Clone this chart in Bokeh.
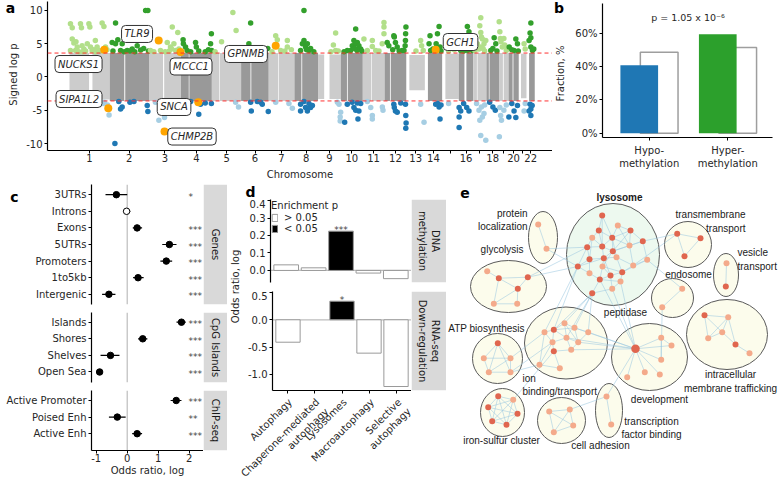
import numpy as np
from math import pi
from bokeh.plotting import figure
from bokeh.models import Range1d, FixedTicker, Label, Span, Legend, LegendItem, PrintfTickFormatter
from bokeh.layouts import row, column
from bokeh.embed import file_html
from bokeh.resources import INLINE
from bokeh.core.properties import value

FONT = "DejaVu Sans"
EFONT = "Liberation Sans"
TXT = "#262626"

# ======================= DATA =======================
# ---- a: Manhattan plot ----
chrom_len = [249, 243, 198, 191, 181, 171, 159, 146, 141, 136, 135, 134,
             115, 107, 103, 90, 81, 78, 59, 63, 48, 51]
gap_start = [121, 90, 87, 48, 46, 58, 58, 43, 38, 38, 51, 33, 0, 0, 0, 35, 22, 15, 24, 25, 0, 0]
gap_end = [142, 96, 94, 52, 50, 63, 62, 48, 71, 43, 55, 38, 19, 19, 20, 47, 26, 19, 29, 30, 14, 16]
band_hi = [3.6, 3.6, 3.6, 3.6, 3.6, 3.6, 3.6, 3.6, 3.4, 3.6, 3.6, 3.6,
           3.3, 3.6, 3.5, 3.6, 3.6, 3.6, 3.6, 3.6, 3.5, 3.6]
band_lo = [-3.4, -3.6, -3.6, -3.6, -3.6, -3.6, -3.6, -3.6, -3.3, -3.6, -3.6, -3.6,
           -2.0, -3.6, -3.3, -3.6, -3.6, -3.6, -3.6, -3.6, -3.2, -3.6]
chrom_tick_labels = ["1", "2", "3", "4", "5", "6", "7", "8", "9", "10", "11", "12", "13", "14",
                     "", "16", "", "18", "", "20", "", "22"]
threshold = 3.6

up_hits = [  # (chromosome, position Mb, signed log p)
    (1, 6, 8.0), (1, 17, 7.4), (1, 68, 8.0), (1, 74, 7.4), (1, 120, 8.0), (1, 126, 7.5), (1, 202, 8.1),
    (1, 213, 7.6), (1, 17, 5.7), (1, 27, 5.1), (1, 48, 4.5), (1, 78, 4.7), (1, 89, 4.2), (1, 110, 5.0),
    (1, 130, 4.5), (1, 151, 4.1), (1, 171, 4.5), (1, 182, 4.0), (1, 223, 4.5), (1, 6, 4.0), (1, 37, 4.0),
    (1, 58, 3.8), (1, 100, 3.9), (1, 140, 4.0), (1, 161, 3.8), (1, 192, 3.9), (1, 232, 4.1), (1, 40, 5.3),
    (1, 160, 5.5), (1, 85, 3.8),
    (2, 36, 8.1), (2, 15, 5.2), (2, 36, 5.0), (2, 50, 5.6), (2, 77, 5.0), (2, 67, 4.0), (2, 108, 4.0),
    (2, 139, 4.2), (2, 170, 4.7), (2, 191, 4.05), (2, 222, 10.0), (2, 236, 10.0), (2, 20, 3.9),
    (2, 90, 3.8), (2, 125, 3.9), (2, 155, 3.8), (2, 210, 4.3), (2, 240, 3.9),
    (3, 9, 4.0), (3, 144, 7.5), (3, 178, 6.7), (3, 113, 5.2), (3, 133, 4.5), (3, 154, 5.0), (3, 71, 4.0),
    (3, 100, 3.8), (3, 125, 3.9), (3, 165, 4.0), (3, 185, 4.2), (3, 30, 3.8), (3, 140, 4.2),
    (4, 13, 5.6), (4, 15, 5.0), (4, 28, 4.5), (4, 38, 4.0), (4, 90, 5.2), (4, 95, 4.5), (4, 110, 3.9),
    (4, 150, 3.8), (4, 183, 5.0), (4, 188, 6.5), (4, 190, 4.0), (4, 170, 4.1), (4, 60, 3.8),
    (5, 60, 5.3), (5, 130, 9.7), (5, 150, 7.0), (5, 100, 4.2), (5, 20, 3.8), (5, 170, 4.0),
    (6, 59, 8.1), (6, 48, 5.0), (6, 70, 4.3), (6, 100, 4.0), (6, 165, 4.3), (6, 30, 3.8), (6, 140, 3.9),
    (7, 43, 6.2), (7, 53, 5.6), (7, 115, 5.5), (7, 115, 4.5), (7, 74, 4.0), (7, 100, 3.9), (7, 140, 4.1),
    (7, 20, 3.8),
    (8, 59, 10.0), (8, 49, 5.0), (8, 59, 5.5), (8, 69, 4.5), (8, 80, 5.0), (8, 38, 4.0), (8, 90, 4.0),
    (8, 100, 4.3), (8, 75, 4.1), (8, 120, 3.8),
    (9, 109, 6.6), (9, 95, 4.8), (9, 109, 4.0), (9, 125, 3.9), (9, 80, 3.8),
    (10, 92, 7.2), (10, 81, 5.5), (10, 102, 5.2), (10, 71, 4.7), (10, 92, 5.0), (10, 112, 4.7),
    (10, 123, 4.2), (10, 61, 4.0), (10, 40, 4.0), (10, 100, 4.0), (10, 85, 4.3), (10, 130, 3.9),
    (10, 20, 3.8),
    (11, 7, 5.7), (11, 59, 5.5), (11, 59, 4.6), (11, 28, 4.0), (11, 131, 8.2), (11, 131, 7.5),
    (11, 131, 6.5), (11, 120, 5.0), (11, 100, 3.9), (11, 80, 4.0),
    (12, 16, 5.2), (12, 26, 4.7), (12, 57, 6.2), (12, 60, 6.0), (12, 67, 5.2), (12, 78, 4.5),
    (12, 109, 4.0), (12, 132, 7.5), (12, 130, 6.5), (12, 129, 5.5), (12, 127, 4.7), (12, 50, 4.1),
    (12, 120, 4.0), (12, 90, 3.9),
    (13, 89, 5.5), (13, 95, 4.7), (13, 60, 3.9), (13, 105, 4.0),
    (14, 32, 6.2), (14, 26, 5.0), (14, 88, 7.6), (14, 78, 6.5), (14, 94, 4.5), (14, 36, 4.0),
    (14, 50, 4.2), (14, 100, 3.9), (14, 70, 5.0),
    (15, 40, 3.9), (15, 75, 4.1),
    (16, 53, 7.6), (16, 63, 6.8), (16, 53, 5.0), (16, 56, 4.0), (16, 84, 4.0), (16, 12, 4.0),
    (16, 70, 4.5), (16, 30, 3.9),
    (17, 46, 8.9), (17, 40, 7.7), (17, 46, 6.7), (17, 56, 5.7), (17, 66, 5.0), (17, 46, 4.5),
    (17, 77, 5.5), (17, 25, 5.0), (17, 10, 4.0), (17, 35, 4.2), (17, 60, 4.3), (17, 70, 3.9),
    (17, 50, 6.0),
    (18, 48, 5.9), (18, 58, 5.0), (18, 27, 4.0), (18, 40, 4.3), (18, 65, 3.9),
    (19, 1, 8.3), (19, 5, 6.8), (19, 8, 5.8), (19, 12, 5.3), (19, 20, 4.5), (19, 35, 4.8),
    (19, 45, 4.0), (19, 30, 5.8), (19, 50, 4.3),
    (20, 45, 5.7), (20, 55, 5.0), (20, 34, 4.0), (20, 4, 4.5), (20, 20, 4.1), (20, 60, 3.9),
    (21, 33, 5.0), (21, 40, 4.2),
    (22, 27, 8.1), (22, 22, 6.6), (22, 27, 5.9), (22, 16, 5.5), (22, 27, 4.5), (22, 37, 4.0),
    (22, 45, 4.2),
]
down_hits = [
    (1, 208, -4.0), (1, 245, -5.7), (1, 235, -4.2), (1, 215, -3.8),
    (2, 56, -3.7), (2, 77, -4.5), (2, 67, -4.8), (2, 125, -3.8), (2, 32, -10.0), (2, 232, -4.3),
    (2, 236, -5.2), (2, 150, -3.7),
    (3, 61, -6.5), (3, 96, -6.1), (3, 123, -3.7), (3, 40, -3.8),
    (4, 110, -5.6), (4, 121, -4.1), (4, 150, -3.9), (4, 188, -4.0), (4, 60, -3.7),
    (5, 147, -3.8), (5, 165, -4.5),
    (6, 59, -3.8), (6, 63, -5.1), (6, 121, -3.8), (6, 131, -4.1), (6, 168, -5.2), (6, 100, -3.7),
    (7, 125, -4.0), (7, 146, -4.7), (7, 43, -3.8),
    (8, 38, -4.1), (8, 38, -5.1), (8, 69, -4.6), (8, 80, -5.1), (8, 100, -4.6), (8, 111, -4.3),
    (8, 59, -3.7), (8, 90, -4.0),
    (9, 130, -4.1), (9, 140, -5.3), (9, 137, -6.0), (9, 137, -6.6), (9, 120, -3.8),
    (10, 24, -6.8), (10, 40, -4.1), (10, 81, -4.6), (10, 92, -5.0), (10, 102, -3.9), (10, 112, -5.1),
    (10, 106, -6.3), (10, 123, -4.0), (10, 70, -3.8),
    (11, 49, -4.6), (11, 59, -5.8), (11, 59, -6.3), (11, 28, -3.7), (11, 121, -4.5), (11, 125, -5.0),
    (12, 57, -4.1), (12, 60, -4.6), (12, 67, -5.1), (12, 78, -5.3), (12, 129, -4.1), (12, 131, -5.8),
    (12, 133, -6.9), (12, 131, -7.7), (12, 100, -3.9),
    (13, 89, -4.1), (13, 110, -6.8),
    (14, 67, -4.1), (14, 88, -4.5), (14, 94, -6.3), (14, 80, -4.0), (14, 100, -4.2),
    (15, 40, -4.0),
    (16, 2, -4.6), (16, 2, -6.0), (16, 2, -7.6), (16, 49, -4.6), (16, 63, -5.1), (16, 12, -5.1),
    (16, 30, -4.0),
    (17, 46, -8.8), (17, 77, -9.5), (17, 35, -5.0), (17, 56, -6.0), (17, 66, -5.5), (17, 20, -4.0),
    (17, 50, -4.5), (17, 70, -4.2), (17, 40, -6.5),
    (18, 40, -4.5), (18, 55, -5.0), (18, 20, -3.8),
    (19, 2, -9.0), (19, 10, -5.8), (19, 5, -4.6), (19, 15, -6.5), (19, 30, -5.0), (19, 45, -4.2),
    (20, 34, -5.1), (20, 45, -6.1), (20, 2, -6.0), (20, 20, -4.0), (20, 55, -4.3),
    (21, 33, -5.1), (21, 40, -4.0),
    (22, 22, -4.1), (22, 27, -4.8), (22, 27, -5.8), (22, 16, -5.1), (22, 35, -4.3),
]
hl_gene = ["NUCKS1", "TLR9", "MCCC1", "GPNMB", "GCH1", "SIPA1L2", "SNCA", "CHMP2B"]
hl_chr = [1, 3, 3, 7, 14, 1, 4, 3]
hl_pos = [215, 60, 195, 43, 67, 240, 107, 96]
hl_val = [4.1, 5.5, 3.75, 4.7, 4.1, -4.7, -3.8, -8.2]

# ---- b ----
b_cats = ["Hypo-\nmethylation", "Hyper-\nmethylation"]
b_obs = [40.7, 59.3]
b_bg = [48.6, 51.4]
b_colors = ["#1f77b4", "#2ca02c"]
b_ptext = "p = 1.05 x 10\u207b\u2076"

# ---- c ----
c_genes = ["3UTRs", "Introns", "Exons", "5UTRs", "Promoters", "1to5kb", "Intergenic"]
c_genes_or = [-0.35, -0.02, 0.32, 1.36, 1.26, 0.35, -0.59]
c_genes_lo = [-0.70, -0.13, 0.18, 1.13, 1.07, 0.19, -0.81]
c_genes_hi = [0.0, 0.10, 0.48, 1.59, 1.45, 0.53, -0.38]
c_genes_sig = ["*", "", "***", "***", "***", "***", "***"]
c_cpg = ["Islands", "Shores", "Shelves", "Open Sea"]
c_cpg_or = [1.75, 0.50, -0.54, -0.89]
c_cpg_lo = [1.59, 0.35, -0.86, -0.94]
c_cpg_hi = [1.89, 0.65, -0.25, -0.84]
c_cpg_sig = ["***", "***", "***", "***"]
c_chip = ["Active Promoter", "Poised Enh", "Active Enh"]
c_chip_or = [1.58, -0.32, 0.32]
c_chip_lo = [1.40, -0.59, 0.16]
c_chip_hi = [1.75, -0.05, 0.48]
c_chip_sig = ["***", "**", "***"]

# ---- d ----
d_cats = ["Autophagy", "Chaperone-mediated\nautophagy", "Lysosomes", "Macroautophagy", "Selective\nautophagy"]
d_dna = [0.032, 0.015, 0.225, -0.015, -0.047]
d_dna_sig = ["", "", "***", "", ""]
d_rna = [-0.41, float("nan"), 0.34, -0.61, -1.22]
d_rna_sig = ["", "", "*", "", ""]

# ---- e: network ----
cl_x = [612.5, 542.5, 508, 497, 502, 565.5, 649, 608.5, 561, 687.5, 725.5, 672, 726.5]
cl_y = [254, 237, 286, 358, 412, 342.5, 356.5, 410, 420, 244, 274.5, 297.5, 334]
cl_w = [93, 29, 76, 50, 44, 83, 76, 27, 48, 47, 25, 42, 81]
cl_h = [102, 52, 52, 50, 48, 72, 67, 54, 46, 46, 43, 39, 70]
cl_fill = ["#edf9ef"] + ["#fcfcec"] * 12
node_x = [601.7, 617.3, 598.3, 611.7, 630, 591.7, 642.3, 586.7, 601.7, 629, 612.3, 616, 589, 603.3, 646.7,
          577.3, 602, 632.7, 589, 610, 621.7, 599.3, 620, 591.7, 611.7,
          537.7, 546,
          486.7, 498.3, 527.3, 517.3, 493.3, 516.7,
          497.3, 483.3, 510, 488.3, 510,
          497.7, 512.7, 487.7, 517, 491.7, 506,
          544, 553.3, 564, 574, 587.7, 552, 566, 577.7, 553.3, 570.7, 539, 559.3,
          635, 660.7, 671, 660.7, 644.3, 659.3, 626.7,
          606, 610.7,
          548.7, 569.3, 572.7, 553.3,
          676.7, 700, 684,
          726, 725.3,
          681.7, 661.7,
          704, 727.7, 721.7, 707.7, 735, 749]
node_y = [215, 225, 230, 237.3, 230, 237.3, 240.7, 246.7, 246, 245, 250.7, 256.7, 258.7, 257.7, 259.3,
          266, 266, 265, 272.7, 275, 271.7, 279, 281, 292.7, 288.3,
          224, 248.3,
          270.7, 277.7, 276.7, 288.3, 303.3, 303.3,
          342.7, 357.7, 357.7, 371.7, 371.7,
          395.7, 399.3, 406.7, 413.3, 420.7, 424.3,
          331.7, 329.3, 322.7, 327.3, 331.7, 341.7, 337.3, 341.7, 350.7, 349.3, 364.3, 367.7,
          348.3, 337.3, 345, 359.3, 371.7, 374, 376.7,
          396, 424,
          411, 409, 425, 431.7,
          233.3, 237.7, 255.7,
          262.7, 286,
          288.3, 306.7,
          314.7, 316.7, 331.7, 337.7, 344, 352.7]
node_dark = [1, 0, 1, 1, 1, 0, 1, 1, 1, 0, 1, 0, 1, 1, 0, 1, 0, 0, 0, 1, 1, 1, 0, 1, 0,
             0, 0,
             0, 1, 1, 1, 0, 0,
             1, 0, 0, 0, 0,
             1, 0, 1, 1, 1, 1,
             0, 1, 0, 0, 0, 0, 0, 0, 1, 0, 0, 0,
             1, 0, 0, 0, 0, 0, 0,
             0, 0,
             0, 0, 0, 0,
             1, 1, 1,
             0, 1,
             0, 0,
             1, 0, 0, 0, 1, 0]
edges = [(0, 2), (0, 3), (0, 8), (1, 3), (1, 4), (1, 9), (2, 3), (2, 5), (2, 8), (3, 4), (3, 8), (3, 9),
         (3, 10), (3, 11), (4, 6), (4, 9), (4, 10), (5, 7), (5, 8), (5, 12), (6, 9), (6, 10), (6, 14),
         (7, 8), (7, 12), (7, 15), (8, 10), (8, 13), (9, 10), (9, 17), (10, 11), (10, 13), (10, 16),
         (11, 13), (11, 17), (11, 20), (12, 13), (12, 15), (12, 18), (13, 16), (13, 19), (14, 17),
         (14, 20), (15, 13), (15, 18), (16, 19), (16, 20), (16, 21), (17, 20), (18, 21), (19, 20),
         (19, 21), (19, 24), (20, 22), (21, 22), (21, 23), (22, 24), (23, 24),
         (15, 26), (15, 29), (15, 44), (15, 45), (7, 26), (7, 29), (23, 46), (23, 47), (23, 48),
         (23, 50), (23, 45), (21, 56), (24, 56), (22, 56), (14, 74), (17, 69), (6, 69),
         (25, 26), (27, 28), (28, 29), (28, 30), (29, 30), (30, 32), (31, 32), (28, 31), (30, 31),
         (33, 34), (33, 35), (33, 37), (34, 35), (34, 36), (35, 36), (35, 37), (36, 37), (33, 36),
         (38, 39), (38, 40), (38, 41), (38, 42), (38, 43), (39, 40), (39, 41), (39, 42), (39, 43),
         (40, 41), (40, 42), (40, 43), (41, 42), (41, 43), (42, 43),
         (44, 45), (44, 49), (45, 46), (45, 47), (45, 49), (45, 50), (46, 47), (46, 50), (46, 51),
         (47, 48), (47, 51), (48, 51), (49, 50), (49, 52), (50, 51), (50, 53), (51, 53), (52, 53),
         (52, 55), (54, 55), (54, 49), (44, 54),
         (48, 56), (51, 56), (53, 56), (50, 56), (47, 56), (44, 35), (49, 37), (54, 37), (52, 39),
         (56, 57), (56, 58), (56, 59), (56, 60), (56, 61), (56, 62), (57, 58), (57, 59), (56, 63),
         (59, 75), (63, 64),
         (65, 66), (65, 67), (66, 67), (65, 68), (66, 68), (67, 68), (63, 66),
         (69, 70), (69, 71), (70, 71), (72, 73), (74, 75),
         (76, 77), (76, 78), (76, 79), (77, 78), (77, 79), (78, 79), (78, 80), (80, 81), (77, 80)]
hub_node = 56


# ======================= HELPERS =======================
def mkfig(w, h, xr, yr, bl=0, br=0, bt=0, bb=0, xloc="below", yloc="left"):
    p = figure(width=w, height=h, x_range=xr, y_range=yr, output_backend="svg",
               toolbar_location=None, x_axis_location=xloc, y_axis_location=yloc,
               min_border_left=bl, min_border_right=br, min_border_top=bt, min_border_bottom=bb)
    p.outline_line_color = None
    p.grid.visible = False
    p.background_fill_color = "white"
    p.border_fill_color = "white"
    for ax in p.axis:
        ax.axis_line_color = "black"
        ax.axis_line_width = 1.2
        ax.major_tick_line_color = "black"
        ax.major_tick_out = 3
        ax.major_tick_in = 0
        ax.minor_tick_line_color = None
        ax.major_label_text_font = FONT
        ax.major_label_text_font_size = "10px"
        ax.major_label_text_color = TXT
        ax.axis_label_text_font = FONT
        ax.axis_label_text_font_size = "10px"
        ax.axis_label_text_font_style = "normal"
        ax.axis_label_text_color = TXT
        ax.major_label_standoff = 2
    return p


def blank(w, h):
    # a figure whose frame is the whole canvas, in pixel units (y down)
    return mkfig(w, h, Range1d(0, w), Range1d(h, 0), xloc=None, yloc=None)


def txt(p, x, y, t, size="10px", style="normal", align="center", baseline="middle",
        font=FONT, angle=0.0, color=TXT):
    p.text(x=[x], y=[y], text=[t], angle=angle, text_align=align, text_baseline=baseline,
           text_font=value(font), text_font_size=size, text_font_style=style, text_color=color)


def strip(w, h, bt, bb, text):
    s = mkfig(w, h, Range1d(0, 1), Range1d(0, 1), bt=bt, bb=bb, xloc=None, yloc=None)
    s.quad(left=[0], right=[1], bottom=[0], top=[1], fill_color="#d9d9d9", line_color=None)
    s.text(x=[0.5], y=[0.5], text=[text], angle=-pi / 2, text_align="center", text_baseline="middle",
           text_font=value(FONT), text_font_size="10px", text_color="#1a1a1a")
    return s


# ======================= PANEL A =======================
starts = np.concatenate([[0], np.cumsum(chrom_len)[:-1]])
centers = [int(round(s + l / 2)) for s, l in zip(starts, chrom_len)]

a_side = blank(22, 183)
txt(a_side, 10, 7, "a", size="14px", style="bold", color="black")
txt(a_side, 13, 74, "Signed log p", angle=pi / 2)

pa = mkfig(530, 183, Range1d(-136.1, 2988.9), Range1d(-11.05, 11.35), bl=25, br=0, bt=1, bb=33)
bl_, br_, bb_, bt_, bc_ = [], [], [], [], []
for i in range(22):
    col = "#cccccc" if i % 2 == 0 else "#999999"
    for s, e in [(0, gap_start[i]), (gap_end[i], chrom_len[i])]:
        if e - s > 0:
            bl_.append(starts[i] + s); br_.append(starts[i] + e)
            bb_.append(band_lo[i]); bt_.append(band_hi[i]); bc_.append(col)
pa.quad(left=bl_, right=br_, bottom=bb_, top=bt_, fill_color=bc_, line_color=None)


def hits_xy(hits, c_odd, c_even):
    xs = [starts[c - 1] + p for c, p, v in hits]
    ys = [v for c, p, v in hits]
    cs = [c_odd if c % 2 == 1 else c_even for c, p, v in hits]
    return xs, ys, cs


for hits, co, ce in [(up_hits, "#b2df8a", "#33a02c"), (down_hits, "#a6cee3", "#1f78b4")]:
    xs, ys, cs = hits_xy(hits, co, ce)
    pa.scatter(x=xs, y=ys, size=5.5, fill_color=cs, line_color=None)

for yv in (threshold, -threshold):
    pa.add_layout(Span(location=yv, dimension="width", line_color="#ff3030", line_dash="4 3", line_width=1))

hx = [starts[c - 1] + p for c, p in zip(hl_chr, hl_pos)]
pa.scatter(x=hx, y=hl_val, size=8, fill_color="#ffa500", line_color=None)

gene_label_xy = {"NUCKS1": (56, 1.95), "TLR9": (418, 6.47), "MCCC1": (752, 1.58), "GPNMB": (1092, 3.46),
                 "GCH1": (2420, 5.26), "SIPA1L2": (59, -3.31), "SNCA": (647, -4.51), "CHMP2B": (758, -8.95)}
for g in hl_gene:
    gx, gy = gene_label_xy[g]
    pa.add_layout(Label(x=gx, y=gy, text=g, text_font=FONT, text_font_size="10px", text_font_style="italic",
                        text_color=TXT, text_align="center", text_baseline="middle",
                        background_fill_color="white", border_line_color="#333333", border_line_width=1,
                        padding=3, border_radius=4))

pa.yaxis.ticker = FixedTicker(ticks=[-10, -5, 0, 5, 10])
pa.yaxis.major_label_overrides = {-10: "-10", -5: "-5", 0: "0", 5: "5", 10: "10"}
pa.xaxis.ticker = FixedTicker(ticks=centers)
pa.xaxis.major_label_overrides = {c: t for c, t in zip(centers, chrom_tick_labels)}
pa.xaxis.major_label_standoff = 0
pa.xaxis.axis_label = "Chromosome"
pa.xaxis.axis_label_standoff = 4

# ======================= PANEL B =======================
b_side = blank(20, 183)
txt(b_side, 6.5, 7, "b", size="14px", style="bold", color="black")
txt(b_side, 8, 73, "Fraction, %", angle=pi / 2)

pb = mkfig(206, 183, Range1d(-0.595, 1.570), Range1d(-2.58, 77.8), bl=29, br=6, bt=3, bb=46)
bx = list(range(len(b_cats)))
pb.vbar(x=[i + 0.127 for i in bx], top=b_bg, width=0.48, fill_color="white",
        line_color="#9e9e9e", line_width=1.5)
pb.vbar(x=[i - 0.127 for i in bx], top=b_obs, width=0.48, fill_color=b_colors, line_color=None)
pb.xaxis.ticker = FixedTicker(ticks=bx)
pb.xaxis.major_label_overrides = {i: c for i, c in zip(bx, b_cats)}
pb.xaxis.major_label_standoff = 4
pb.yaxis.ticker = FixedTicker(ticks=[0, 20, 40, 60])
pb.yaxis.major_label_overrides = {0: "0%", 20: "20%", 40: "40%", 60: "60%"}
pb.yaxis.major_label_standoff = 2
pb.add_layout(Label(x=0.494, y=69.4, text=b_ptext, text_font=FONT, text_font_size="9.5px", text_color=TXT,
                    text_align="center", text_baseline="middle"))


# ======================= PANEL C =======================
def c_facet(w, bl, cats, orv, lo, hi, sig, h, bt, bb, pad_t, pad_b, xaxis):
    n = len(cats)
    p = mkfig(w, h, Range1d(-1.152, 2.461), Range1d(n - 1 + pad_b, -pad_t), bl=bl, br=0, bt=bt, bb=bb,
              xloc="below" if xaxis else None)
    rows = list(range(n))
    p.add_layout(Span(location=0, dimension="height", line_color="#bdbdbd", line_width=1.2, level="underlay"))
    p.segment(x0=lo, y0=rows, x1=hi, y1=rows, line_color="black", line_width=1.2)
    fills = ["white" if s == "" else "black" for s in sig]
    p.scatter(x=orv, y=rows, size=6.5, fill_color=fills, line_color="black", line_width=1)
    p.text(x=[1.98] * n, y=rows, text=sig, text_align="left", text_baseline="middle", y_offset=2,
           text_font=value(FONT), text_font_size="9px", text_color="#444444")
    p.yaxis.ticker = FixedTicker(ticks=rows)
    p.yaxis.major_label_overrides = {i: c for i, c in zip(rows, cats)}
    if xaxis:
        p.xaxis.ticker = FixedTicker(ticks=[-1, 0, 1, 2])
        p.xaxis.major_label_overrides = {-1: "-1", 0: "0", 1: "1", 2: "2"}
        p.xaxis.major_label_standoff = 0
        p.xaxis.axis_label = "Odds ratio, log"
        p.xaxis.axis_label_standoff = 0
    return p


c_side = blank(30, 129)
txt(c_side, 14, 13, "c", size="14px", style="bold", color="black")
c1 = c_facet(173, 61, c_genes, c_genes_or, c_genes_lo, c_genes_hi, c_genes_sig, 129, 1, 8, 0.614, 0.614, False)
c2 = c_facet(203, 91, c_cpg, c_cpg_or, c_cpg_lo, c_cpg_hi, c_cpg_sig, 78, 0, 8, 0.584, 0.633, False)
c3 = c_facet(203, 91, c_chip, c_chip_or, c_chip_lo, c_chip_hi, c_chip_sig, 91, 0, 31, 0.602, 1.012, True)
s1 = strip(24, 129, 1, 8, "Genes")
s2 = strip(24, 78, 0, 8, "CpG Islands")
s3 = strip(24, 91, 0, 31, "ChIP-seq")


# ======================= PANEL D =======================
def d_bars(p, vals, sig):
    xw = [i for i, (v, s) in enumerate(zip(vals, sig)) if s == "" and v == v]
    xb = [i for i, (v, s) in enumerate(zip(vals, sig)) if s != "" and v == v]
    rw = p.vbar(x=xw, top=[vals[i] for i in xw], width=0.9, fill_color="white", line_color="#9a9a9a")
    rb = p.vbar(x=xb, top=[vals[i] for i in xb], width=0.9, fill_color="black", line_color="#9a9a9a")
    p.text(x=xb, y=[vals[i] for i in xb], text=[sig[i] for i in xb], text_align="center",
           text_baseline="middle", y_offset=-1, text_font=value(FONT), text_font_size="9px",
           text_color="#444444")
    p.add_layout(Span(location=0, dimension="width", line_color="#bdbdbd", line_width=1.2, level="underlay"))
    return rw, rb


DXR = (-0.573, 4.573)
d_head = blank(219, 16)
txt(d_head, 23, 8.5, "d", size="14px", style="bold", color="black")
d_side = blank(17, 196)
txt(d_side, 8, 87, "Odds ratio, log", angle=pi / 2)

d1 = mkfig(167, 92, Range1d(*DXR), Range1d(-0.069, 0.406), bl=26, br=0, bt=0, bb=9, xloc=None)
d2 = mkfig(167, 104, Range1d(*DXR), Range1d(-1.293, 0.517), bl=26, br=0, bt=0, bb=5)
rw1, rb1 = d_bars(d1, d_dna, d_dna_sig)
d_bars(d2, d_rna, d_rna_sig)
d1.yaxis.ticker = FixedTicker(ticks=[0, 0.1, 0.2, 0.3, 0.4])
d2.yaxis.ticker = FixedTicker(ticks=[-1.0, -0.5, 0, 0.5])
for p in (d1, d2):
    p.yaxis.formatter = PrintfTickFormatter(format="%.1f")
dx = list(range(len(d_cats)))
d2.xaxis.ticker = FixedTicker(ticks=dx)
d2.xaxis.major_label_overrides = {i: "" for i in dx}
d2.xaxis.major_label_text_font_size = "1px"
d2.xaxis.major_label_standoff = 0
leg = Legend(items=[LegendItem(label="> 0.05", renderers=[rw1]), LegendItem(label="< 0.05", renderers=[rb1])],
             location="top_left", title="Enrichment p")
leg.title_text_font = FONT
leg.title_text_font_size = "10px"
leg.title_text_font_style = "normal"
leg.title_text_color = TXT
leg.title_standoff = 1
leg.label_text_font = FONT
leg.label_text_font_size = "10px"
leg.label_text_color = TXT
leg.label_height = 9
leg.glyph_height = 9
leg.glyph_width = 7
leg.label_standoff = 6
leg.spacing = 0
leg.padding = 1
leg.margin = 0
leg.background_fill_alpha = 0
leg.border_line_alpha = 0
d1.add_layout(leg)
ds1 = strip(35, 92, 0, 9, "DNA\nmethylation")
ds2 = strip(35, 104, 0, 5, "RNA-seq\nDown-regulation")

# rotated category labels under panel d (same x scale as the bars)
d_lab = mkfig(219, 86, Range1d(DXR[0] - 43 / 27.4, DXR[0] - 43 / 27.4 + 219 / 27.4), Range1d(86, 0),
              xloc=None, yloc=None)
d_lab.text(x=dx, y=[1] * len(dx), text=d_cats, angle=pi / 4, text_align="right", text_baseline="top",
           text_font=value(FONT), text_font_size="10px", text_color=TXT)

# ======================= PANEL E =======================
pe = mkfig(332, 298, Range1d(446, 778), Range1d(481, 183), xloc=None, yloc=None)
pe.ellipse(x=cl_x, y=cl_y, width=cl_w, height=cl_h, fill_color=cl_fill, line_color="#5a5a5a", line_width=1)
pe.segment(x0=[node_x[a] for a, b in edges], y0=[node_y[a] for a, b in edges],
           x1=[node_x[b] for a, b in edges], y1=[node_y[b] for a, b in edges],
           line_color="#9ecae1", line_width=0.7, line_alpha=0.8)
pe.scatter(x=node_x, y=node_y, size=[8.5 if i == hub_node else 6 for i in range(len(node_x))],
           fill_color=["#e0664f" if d else "#f4aa8b" for d in node_dark], line_color=None)
e_labels = [("lysosome", 619, 197, "center", "bold"),
            ("protein\nlocalization", 527, 219.5, "right", "normal"),
            ("glycolysis", 501.5, 249, "center", "normal"),
            ("ATP biosynthesis", 486, 328, "center", "normal"),
            ("iron-sulfur cluster", 501, 440, "center", "normal"),
            ("ion\nbinding/transport", 522, 384.5, "left", "normal"),
            ("peptidase", 625, 312, "center", "normal"),
            ("development", 659, 399, "center", "normal"),
            ("transcription\nfactor binding", 651, 427.5, "center", "normal"),
            ("cell adhesion", 600, 445, "center", "normal"),
            ("transmembrane\ntransport", 745, 221, "right", "normal"),
            ("vesicle\ntransport", 737, 259, "left", "normal"),
            ("endosome", 688, 274, "center", "normal"),
            ("intracellular\nmembrane trafficking", 730, 381, "center", "normal")]
for t, x, y, al, st in e_labels:
    txt(pe, x, y, t, align=al, style=st, font=EFONT, color="#1a1a1a")
txt(pe, 464.5, 192, "e", size="14px", style="bold", color="black")

# ======================= LAYOUT =======================
# each top-row plot sits in its own column so the row does not align their frames
top = row(column(a_side), column(pa), column(b_side), column(pb))
c_col = column(row(c_side, c1, s1), row(c2, s2), row(c3, s3))
d_col = column(d_head, row(d_side, column(row(d1, ds1), row(d2, ds2))), d_lab)
layout = column(top, row(c_col, d_col, pe))
open("out.html", "w").write(file_html(layout, INLINE))
